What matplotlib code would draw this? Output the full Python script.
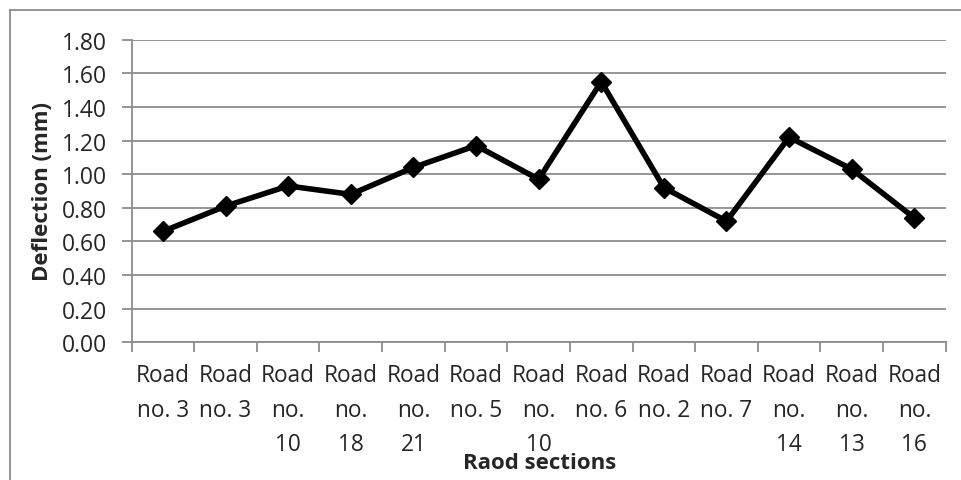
import numpy as np
import matplotlib
matplotlib.use("Agg")
import matplotlib.pyplot as plt
from matplotlib.lines import Line2D

# Deflection measured on each road section
sections = ["Road\nno. 3", "Road\nno. 3", "Road\nno.\n10", "Road\nno.\n18",
            "Road\nno.\n21", "Road\nno. 5", "Road\nno.\n10", "Road\nno. 6",
            "Road\nno. 2", "Road\nno. 7", "Road\nno.\n14", "Road\nno.\n13",
            "Road\nno.\n16"]
deflection = [0.66, 0.81, 0.93, 0.88, 1.04, 1.17, 0.97, 1.55, 0.92, 0.72,
              1.22, 1.03, 0.74]
y_ticks = [0.0, 0.2, 0.4, 0.6, 0.8, 1.0, 1.2, 1.4, 1.6, 1.8]

plt.rcParams["font.family"] = ["Open Sans", "DejaVu Sans"]
grey = "#8c8c8c"
text_col = "#262626"

fig = plt.figure(figsize=(9.61, 4.81), dpi=100)
ax = fig.add_axes([0.137, 0.2863, 0.847, 0.6291])

x = np.arange(len(sections))
ax.plot(x, deflection, color="black", lw=4, marker="D", ms=10,
        markeredgecolor="black", markerfacecolor="black", zorder=3,
        clip_on=False)

ax.set_xlim(-0.5, len(sections) - 0.5)
ax.set_ylim(0, 1.8)
ax.set_yticks(y_ticks)
ax.set_yticklabels([f"{v:.2f}" for v in y_ticks])
ax.yaxis.grid(True, color=grey, lw=1.3)
ax.set_axisbelow(True)

# tick marks between categories, labels centred under each point
ax.set_xticks(np.arange(-0.5, len(sections), 1.0))
ax.set_xticklabels([])
ax.set_xticks(x, minor=True)
ax.set_xticklabels(sections, minor=True, fontsize=16.3, color=text_col,
                   linespacing=1.58)
ax.tick_params(axis="x", which="major", length=7, width=1.3, color=grey)
ax.tick_params(axis="x", which="minor", length=0, pad=15)
ax.tick_params(axis="y", length=7, width=1.3, color=grey, labelsize=16.5,
               labelcolor=text_col, pad=11)

for side in ["top", "right"]:
    ax.spines[side].set_visible(False)
for side in ["left", "bottom"]:
    ax.spines[side].set_color(grey)
    ax.spines[side].set_linewidth(1.3)

ax.set_ylabel("Deflection (mm)", fontsize=16, fontweight="bold",
              color=text_col)
ax.yaxis.set_label_coords(-0.097, 0.5)
fig.text(0.562, 0.037, "Raod sections", fontsize=16, fontweight="bold",
         color=text_col, ha="center", va="center")

# outer chart frame
fig.add_artist(Line2D([0.0105, 1.0], [1 - 11 / 481, 1 - 11 / 481],
                      color=grey, lw=1.3, transform=fig.transFigure))
fig.add_artist(Line2D([0.0105, 0.0105], [0.0, 1 - 11 / 481],
                      color=grey, lw=1.3, transform=fig.transFigure))

fig.savefig("out.png", dpi=100)
